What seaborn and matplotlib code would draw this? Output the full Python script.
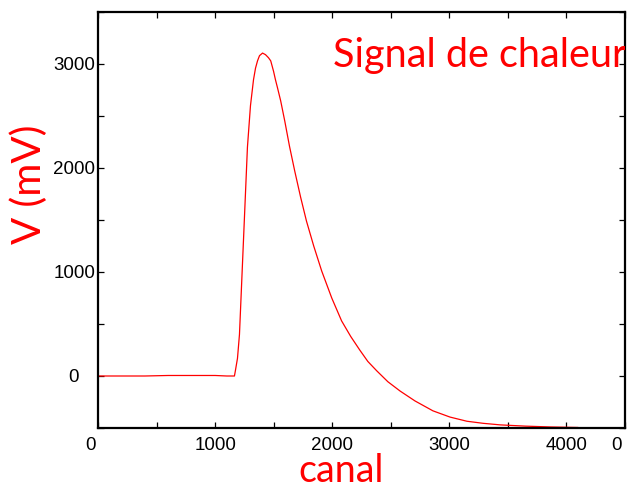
import matplotlib
matplotlib.use("Agg")
import matplotlib.pyplot as plt
from matplotlib.transforms import ScaledTranslation
import pandas as pd
import seaborn as sns

# Heat signal: voltage versus channel
canal = [0, 200, 400, 600, 800, 1000, 1100, 1165, 1173, 1191, 1208, 1242, 1276,
         1302, 1328, 1345, 1362, 1379, 1405, 1430, 1456, 1475, 1499, 1515, 1533,
         1560, 1595, 1635, 1680, 1730, 1780, 1842, 1910, 1996, 2080, 2158, 2235,
         2304, 2380, 2475, 2580, 2707, 2860, 3006, 3150, 3289, 3435, 3649, 3865,
         4100]
tension = [0, 0, 0, 5, 5, 5, 0, 0, 50, 170, 400, 1300, 2200,
           2600, 2850, 2960, 3030, 3080, 3105, 3090, 3060, 3030, 2930, 2850, 2770,
           2645, 2450, 2210, 1970, 1720, 1490, 1250, 1010, 750, 530, 380, 250,
           140, 50, -55, -145, -240, -335, -395, -435, -455, -470, -482, -490,
           -495]

x_ticks = [0, 500, 1000, 1500, 2000, 2500, 3000, 3500, 4000, 4500]
x_tick_labels = ["0", "", "1000", "", "2000", "", "3000", "", "4000", "0"]
y_ticks = [-500, 0, 500, 1000, 1500, 2000, 2500, 3000, 3500]
y_tick_labels = ["", "0", "", "1000", "", "2000", "", "3000", ""]

sns.set_style("white")
plt.rcParams["font.family"] = ["Liberation Sans", "DejaVu Sans"]

df = pd.DataFrame({"canal": canal, "V": tension})

fig = plt.figure(figsize=(6.27, 4.88), dpi=100)
ax = fig.add_axes([98 / 627, 60 / 488, 527 / 627, 416 / 488])

sns.lineplot(data=df, x="canal", y="V", ax=ax, color="#ff0000", linewidth=0.9)

ax.set_xlim(0, 4500)
ax.set_ylim(-500, 3500)
ax.set_xticks(x_ticks)
ax.set_xticklabels(x_tick_labels)
ax.set_yticks(y_ticks)
ax.set_yticklabels(y_tick_labels)
ax.set_xlabel("")
ax.set_ylabel("")

for s in ax.spines.values():
    s.set_visible(True)
    s.set_color("black")
    s.set_linewidth(1.6)

ax.tick_params(axis="both", direction="in", length=4.5, width=0.9, color="black",
               labelsize=13.5, labelcolor="black", top=True, right=True,
               bottom=True, left=True)
ax.tick_params(axis="x", pad=6.5)
ax.tick_params(axis="y", pad=2)

# nudge the two "0" x labels and the "0" y label
xl = ax.get_xticklabels()
xl[0].set_transform(xl[0].get_transform() + ScaledTranslation(-0.08, 0, fig.dpi_scale_trans))
xl[-1].set_transform(xl[-1].get_transform() + ScaledTranslation(-0.09, 0, fig.dpi_scale_trans))
yl = ax.get_yticklabels()
yl[1].set_transform(yl[1].get_transform() + ScaledTranslation(-0.16, 0, fig.dpi_scale_trans))

label_font = ["Lato", "DejaVu Sans"]
fig.text(29.5 / 627, 1 - 184.5 / 488, "V (mV)", rotation=90, color="#ff0000",
         fontsize=29, family=label_font, ha="center", va="center")
fig.text(341.5 / 627, 1 - 482 / 488, "canal", color="#ff0000",
         fontsize=27, family=label_font, ha="center", va="baseline")
ax.text((333 - 98) / 527, (428 - 67) / 416, "Signal de chaleur", color="#ff0000",
        fontsize=28.5, family=label_font, ha="left", va="baseline",
        transform=ax.transAxes, clip_on=True)

fig.savefig("out.png", dpi=100)
